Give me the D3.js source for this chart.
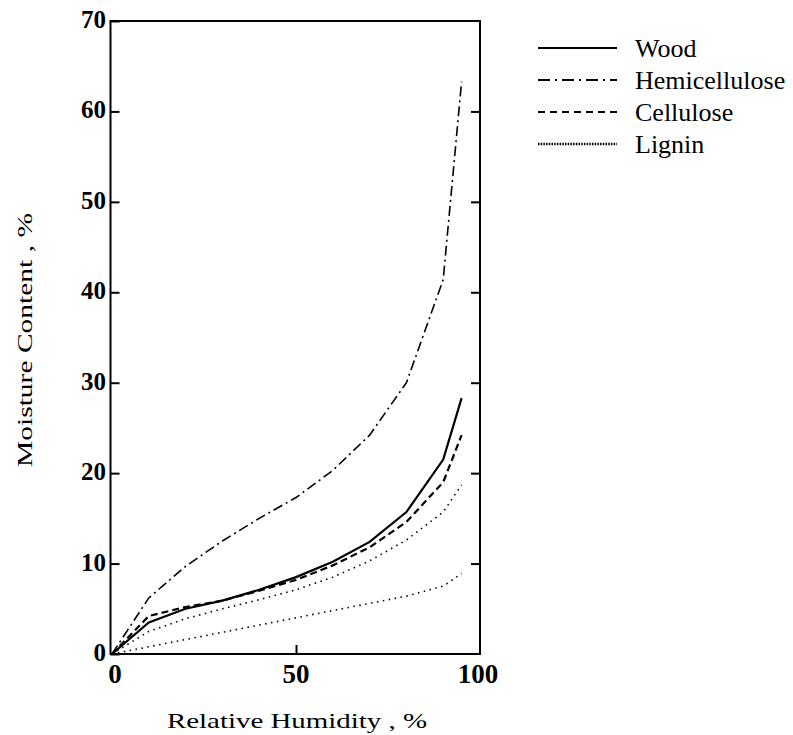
<!DOCTYPE html>
<html>
<head>
<meta charset="utf-8">
<script src="https://cdn.jsdelivr.net/npm/d3@7"></script>
<style>
  body { margin: 0; background: #fff; }
  svg { display: block; }
  .tick-label { font-family: "Liberation Serif", serif; font-weight: bold; font-size: 25px; }
  .axis-title { font-family: "Liberation Serif", serif; font-size: 22px; }
  .legend-label { font-family: "Liberation Serif", serif; font-size: 26px; }
</style>
</head>
<body>
<div class="vis"></div>
<script>
// relative humidity (%) at which each curve was read
const humidity = [0, 10, 20, 30, 40, 50, 60, 70, 80, 90, 95];

// moisture content (%)
const wood          = [0, 3.5, 5.0, 5.9, 7.1, 8.5, 10.2, 12.4, 15.7, 21.5, 28.3];
const hemicellulose = [0, 6.2, 9.7, 12.5, 15.0, 17.3, 20.3, 24.2, 30.0, 41.4, 63.3];
const cellulose     = [0, 4.2, 5.2, 5.9, 7.0, 8.2, 9.8, 11.8, 14.6, 19.0, 24.2];
const ligninUpper   = [0, 2.5, 3.9, 5.0, 6.0, 7.1, 8.5, 10.3, 12.6, 15.7, 18.7];
const ligninLower   = [0, 0.8, 1.6, 2.4, 3.2, 4.0, 4.8, 5.6, 6.4, 7.5, 8.9];

const xTicks = [0, 50, 100];
const yTicks = [0, 10, 20, 30, 40, 50, 60, 70];

const legendNames = ["Wood", "Hemicellulose", "Cellulose", "Lignin"];

const W = 793, H = 735;
const margin = { top: 21, right: 313, bottom: 81, left: 112 };

const svg = d3.select(".vis").append("svg")
  .attr("width", W)
  .attr("height", H);

const x = d3.scaleLinear().domain([0, 100]).range([margin.left, W - margin.right]);
const y = d3.scaleLinear().domain([0, 70]).range([H - margin.bottom, margin.top]);

// frame
svg.append("rect")
  .attr("x", x(0) - 1.5)
  .attr("y", y(70))
  .attr("width", x(100) - x(0) + 1.5)
  .attr("height", y(0) - y(70))
  .attr("fill", "none")
  .attr("stroke", "#000")
  .attr("stroke-width", 2);

// left axis, ticks point inward
const yAxisL = svg.append("g")
  .attr("transform", "translate(" + (x(0) - 1.5) + ",0)")
  .call(d3.axisRight(y).tickValues(yTicks).tickSize(9).tickFormat(""));
yAxisL.select(".domain").remove();
yAxisL.selectAll("line").attr("stroke-width", 2);

svg.append("g").selectAll("text")
  .data(yTicks)
  .enter()
  .append("text")
  .attr("class", "tick-label")
  .attr("x", x(0) - 6)
  .attr("y", d => y(d) + 7)
  .attr("text-anchor", "end")
  .text(d => d);

// right axis, ticks point inward
const yAxisR = svg.append("g")
  .attr("transform", "translate(" + x(100) + ",0)")
  .call(d3.axisLeft(y).tickValues(yTicks.slice(1, -1)).tickSize(9).tickFormat(""));
yAxisR.select(".domain").remove();
yAxisR.selectAll("line").attr("stroke-width", 2);

// bottom axis
const xAxis = svg.append("g")
  .attr("transform", "translate(0," + y(0) + ")")
  .call(d3.axisTop(x).tickValues([50]).tickSize(9).tickFormat(""));
xAxis.select(".domain").remove();
xAxis.selectAll("line").attr("stroke-width", 2);

svg.append("g").selectAll("text")
  .data(xTicks)
  .enter()
  .append("text")
  .attr("class", "tick-label")
  .attr("x", d => x(d) + (d === 0 ? 3 : d === 100 ? -2 : 0))
  .attr("y", y(0) + 29)
  .attr("text-anchor", "middle")
  .style("font-size", "27px")
  .text(d => d);

// axis titles
svg.append("text")
  .attr("class", "axis-title")
  .attr("x", 167)
  .attr("y", 728)
  .attr("textLength", 260)
  .attr("lengthAdjust", "spacingAndGlyphs")
  .text("Relative Humidity ,  %");

svg.append("text")
  .attr("class", "axis-title")
  .attr("transform", "translate(32,467) rotate(-90)")
  .attr("textLength", 254)
  .attr("lengthAdjust", "spacingAndGlyphs")
  .text("Moisture Content ,  %");

// series
const styles = {
  wood:  { dash: null,          width: 2.2 },
  hemi:  { dash: "10,4,2,4",    width: 1.6 },
  cell:  { dash: "7,4",         width: 2.2 },
  lig:   { dash: "1.5,4.5",     width: 1.6 }
};

const series = [
  { values: wood, style: styles.wood },
  { values: hemicellulose, style: styles.hemi },
  { values: cellulose, style: styles.cell },
  { values: ligninUpper, style: styles.lig },
  { values: ligninLower, style: styles.lig }
];

const line = d3.line()
  .x((d, i) => x(humidity[i]))
  .y(d => y(d));

svg.append("g").selectAll("path")
  .data(series)
  .enter()
  .append("path")
  .attr("d", d => line(d.values))
  .attr("fill", "none")
  .attr("stroke", "#000")
  .attr("stroke-width", d => d.style.width)
  .attr("stroke-dasharray", d => d.style.dash);

// legend
const legendStyles = [
  { dash: null, width: 2.2 },
  { dash: "12,5,2,5", width: 2 },
  { dash: "7,5", width: 2 },
  { dash: "1.5,1.2", width: 2.6 }
];

const legend = svg.append("g").attr("transform", "translate(538,48)");

legendNames.forEach(function (name, i) {
  const row = legend.append("g").attr("transform", "translate(0," + i * 32 + ")");
  row.append("line")
    .attr("x1", 0)
    .attr("x2", 79)
    .attr("stroke", "#000")
    .attr("stroke-width", legendStyles[i].width)
    .attr("stroke-dasharray", legendStyles[i].dash);
  row.append("text")
    .attr("class", "legend-label")
    .attr("x", 97)
    .attr("y", 9)
    .text(name);
});
</script>
</body>
</html>
